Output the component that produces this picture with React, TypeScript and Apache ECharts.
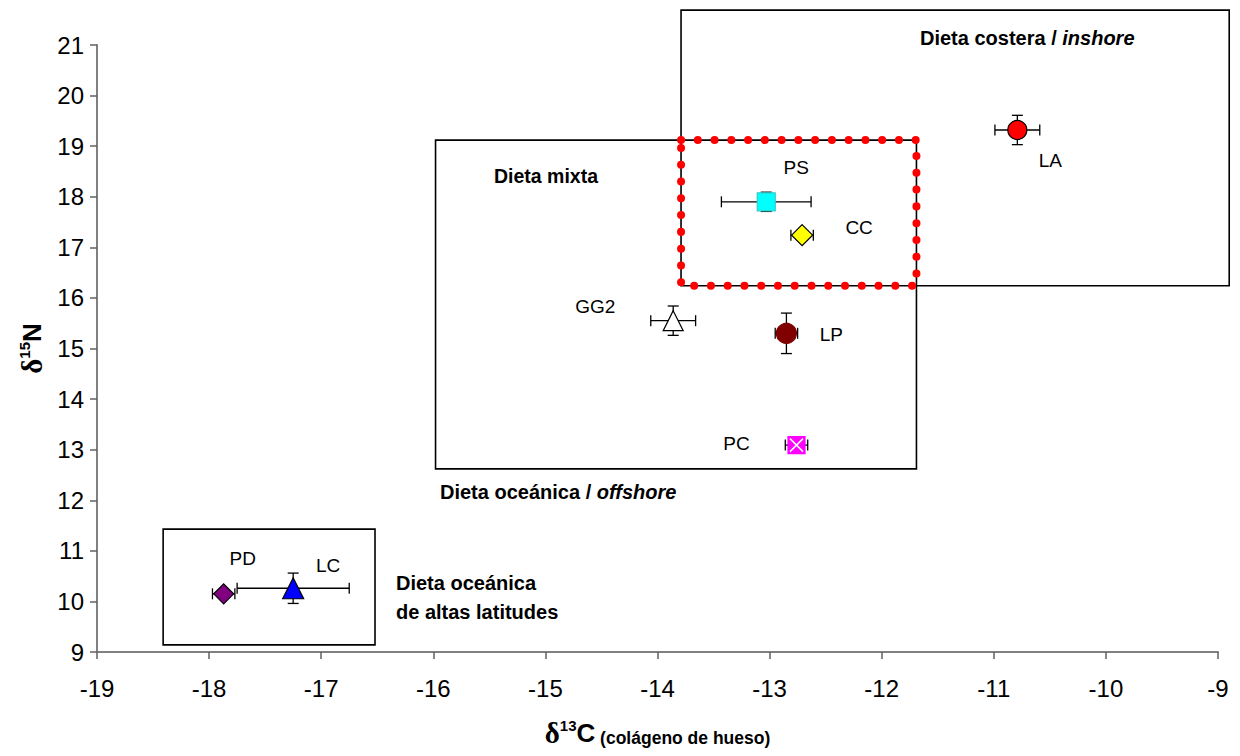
import React, { useEffect, useRef } from "react";
import * as echarts from "echarts";

// ---- data ----
const species = ["LA", "PS", "CC", "GG2", "LP", "PC", "PD", "LC"];
const d13C = [-10.79, -13.03, -12.71, -13.86, -12.85, -12.76, -17.87, -17.25];
const d15N = [19.32, 17.9, 17.24, 15.55, 15.3, 13.09, 10.15, 10.26];
const sdC = [0.2, 0.4, 0.1, 0.2, 0.1, 0.1, 0.1, 0.5];
const sdN = [0.29, 0.19, 0.05, 0.29, 0.4, 0.05, 0.05, 0.3];

const xMin = -19;
const xMax = -9;
const yMin = 9;
const yMax = 21;

// diet zones (rectangles in data units)
const zoneNames = ["Dieta costera", "Dieta mixta / oceánica", "Dieta oceánica de altas latitudes"];
const zoneC1 = [-13.79, -15.98, -18.41];
const zoneC2 = [-8.9, -11.69, -16.52];
const zoneN1 = [16.24, 12.62, 9.14];
const zoneN2 = [21.69, 19.12, 11.43];
// overlap zone (red dotted)
const overlapC = [-13.79, -11.69];
const overlapN = [16.24, 19.12];

// ---- styles (kept apart from the data) ----
const markerStyle: Record<string, any> = {
  LA: { symbol: "circle", size: 19, color: "#ff0000", border: "#000", offset: [33, 31] },
  PS: { symbol: "rect", size: 18, color: "#00ffff", border: "#33cccc", offset: [30, -34] },
  CC: { symbol: "diamond", size: 21, color: "#ffff00", border: "#000", offset: [57, -8] },
  GG2: { symbol: "triangle", size: 20, color: "#ffffff", border: "#000", offset: [-78, -14] },
  LP: { symbol: "circle", size: 20, color: "#800000", border: "#800000", offset: [45, 1] },
  PC: { symbol: "rect", size: 17, color: "#ff00ff", border: "#ff00ff", offset: [-60, -2] },
  PD: { symbol: "diamond", size: 20, color: "#800080", border: "#000", offset: [19, -35] },
  LC: { symbol: "triangle", size: 21, color: "#0000ff", border: "#000", offset: [35, -23] },
};

const FONT = "'Liberation Sans', Arial, sans-serif";

export default function App() {
  const ref = useRef<HTMLDivElement>(null);

  useEffect(() => {
    if (!ref.current) return;
    const chart = echarts.init(ref.current, null, { renderer: "svg" });

    const errData = species.map((s, i) => [d13C[i], d15N[i], sdC[i], sdN[i]]);
    const zoneData = zoneNames.map((n, i) => ({ name: n, value: [zoneC1[i], zoneC2[i], zoneN1[i], zoneN2[i]] }));

    const scatterData = species.map((s, i) => {
      const st = markerStyle[s];
      return {
        name: s,
        value: [d13C[i], d15N[i]],
        symbol: st.symbol,
        symbolSize: st.size,
        itemStyle: { color: st.color, borderColor: st.border, borderWidth: 1.2, opacity: 1 },
        label: {
          show: true,
          formatter: s,
          position: "inside",
          offset: st.offset,
          color: "#000",
          fontSize: 19,
          fontFamily: FONT,
        },
      };
    });

    const pcIdx = species.indexOf("PC");
    const boldRich = {
      b: { fontSize: 20, fontWeight: "bold", fontFamily: FONT, fill: "#000" },
      i: { fontSize: 20, fontWeight: "bold", fontStyle: "italic", fontFamily: FONT, fill: "#000" },
    };

    const option: any = {
      animation: false,
      backgroundColor: "#fff",
      grid: { left: 97, right: 22, top: 45, bottom: 104, containLabel: false },
      xAxis: {
        type: "value",
        min: xMin,
        max: xMax,
        interval: 1,
        splitLine: { show: false },
        axisLine: { show: true, onZero: false, lineStyle: { color: "#808080", width: 2 } },
        axisTick: { show: true, length: 7, lineStyle: { color: "#606060", width: 1.5 } },
        axisLabel: { color: "#000", fontSize: 24, fontFamily: FONT, margin: 24 },
        name: "{d|δ}{s|13}{c|C}{p| (colágeno de hueso)}",
        nameLocation: "middle",
        nameGap: 66,
        nameTextStyle: {
          rich: {
            d: { fontSize: 29, fontWeight: "bold", fontFamily: "'Liberation Serif', serif", color: "#000" },
            s: { fontSize: 15, fontWeight: "bold", fontFamily: FONT, color: "#000", verticalAlign: "top" },
            c: { fontSize: 26, fontWeight: "bold", fontFamily: FONT, color: "#000" },
            p: { fontSize: 17.5, fontWeight: "bold", fontFamily: FONT, color: "#000", verticalAlign: "bottom" },
          },
        },
      },
      yAxis: {
        type: "value",
        min: yMin,
        max: yMax,
        interval: 1,
        splitLine: { show: false },
        axisLine: { show: true, onZero: false, lineStyle: { color: "#808080", width: 2 } },
        axisTick: { show: true, length: 7, lineStyle: { color: "#606060", width: 1.5 } },
        axisLabel: { color: "#000", fontSize: 24, fontFamily: FONT, margin: 13 },
        name: "{d|δ}{s|15}{n|N}",
        nameLocation: "middle",
        nameRotate: 90,
        nameGap: 44,
        nameTextStyle: {
          rich: {
            d: { fontSize: 29, fontWeight: "bold", fontFamily: "'Liberation Serif', serif", color: "#000" },
            s: { fontSize: 15, fontWeight: "bold", fontFamily: FONT, color: "#000", verticalAlign: "top" },
            n: { fontSize: 26, fontWeight: "bold", fontFamily: FONT, color: "#000" },
          },
        },
      },
      graphic: [
        {
          type: "text",
          left: 920,
          top: 28,
          style: { text: "{b|Dieta costera / }{i|inshore}", rich: boldRich },
        },
        {
          type: "text",
          left: 494,
          top: 166,
          style: { text: "Dieta mixta", fontSize: 19.5, fontWeight: "bold", fontFamily: FONT, fill: "#000" },
        },
        {
          type: "text",
          left: 440,
          top: 482,
          style: { text: "{b|Dieta oceánica / }{i|offshore}", rich: boldRich },
        },
        {
          type: "text",
          left: 396,
          top: 568,
          style: {
            text: "Dieta oceánica\nde altas latitudes",
            fontSize: 20,
            lineHeight: 29,
            fontWeight: "bold",
            fontFamily: FONT,
            fill: "#000",
          },
        },
      ],
      series: [
        {
          type: "custom",
          name: "zones",
          clip: false,
          z: 1,
          data: zoneData,
          renderItem: (params: any, api: any) => {
            const tl = api.coord([api.value(0), api.value(3)]);
            const br = api.coord([api.value(1), api.value(2)]);
            return {
              type: "rect",
              shape: { x: tl[0], y: tl[1], width: br[0] - tl[0], height: br[1] - tl[1] },
              style: { fill: "none", stroke: "#000", lineWidth: 1.6 },
            };
          },
        },
        {
          type: "custom",
          name: "overlap",
          clip: false,
          z: 2,
          data: [[overlapC[0], overlapC[1], overlapN[0], overlapN[1]]],
          renderItem: (params: any, api: any) => {
            const tl = api.coord([api.value(0), api.value(3)]);
            const br = api.coord([api.value(1), api.value(2)]);
            return {
              type: "rect",
              shape: { x: tl[0], y: tl[1], width: br[0] - tl[0], height: br[1] - tl[1] },
              style: {
                fill: "none",
                stroke: "#ff0000",
                lineWidth: 8,
                lineDash: [0.01, 16.75],
                lineCap: "round",
              },
            };
          },
        },
        {
          type: "custom",
          name: "error bars",
          clip: false,
          z: 3,
          data: errData,
          renderItem: (params: any, api: any) => {
            const x = api.value(0);
            const y = api.value(1);
            const ex = api.value(2);
            const ey = api.value(3);
            const l = api.coord([x - ex, y]);
            const r = api.coord([x + ex, y]);
            const t = api.coord([x, y + ey]);
            const b = api.coord([x, y - ey]);
            const c = 5.5;
            const st = { stroke: "#000", lineWidth: 1.3 };
            const line = (x1: number, y1: number, x2: number, y2: number) => ({
              type: "line",
              shape: { x1, y1, x2, y2 },
              style: st,
            });
            return {
              type: "group",
              children: [
                line(l[0], l[1], r[0], r[1]),
                line(l[0], l[1] - c, l[0], l[1] + c),
                line(r[0], r[1] - c, r[0], r[1] + c),
                line(t[0], t[1], b[0], b[1]),
                line(t[0] - c, t[1], t[0] + c, t[1]),
                line(b[0] - c, b[1], b[0] + c, b[1]),
              ],
            };
          },
        },
        {
          type: "scatter",
          name: "species",
          z: 4,
          data: scatterData,
        },
        {
          type: "scatter",
          name: "PC cross",
          z: 5,
          silent: true,
          data: [[d13C[pcIdx], d15N[pcIdx]]],
          symbol: "path://M0 0L10 10M10 0L0 10",
          symbolSize: 13,
          itemStyle: { color: "none", borderColor: "#ffffff", borderWidth: 1.5, opacity: 1 },
        },
      ],
    };

    chart.setOption(option);
    return () => chart.dispose();
  }, []);

  return (
    <div
      ref={ref}
      style={{ position: "absolute", left: 0, top: 0, width: 1240, height: 756, background: "#fff" }}
    />
  );
}
